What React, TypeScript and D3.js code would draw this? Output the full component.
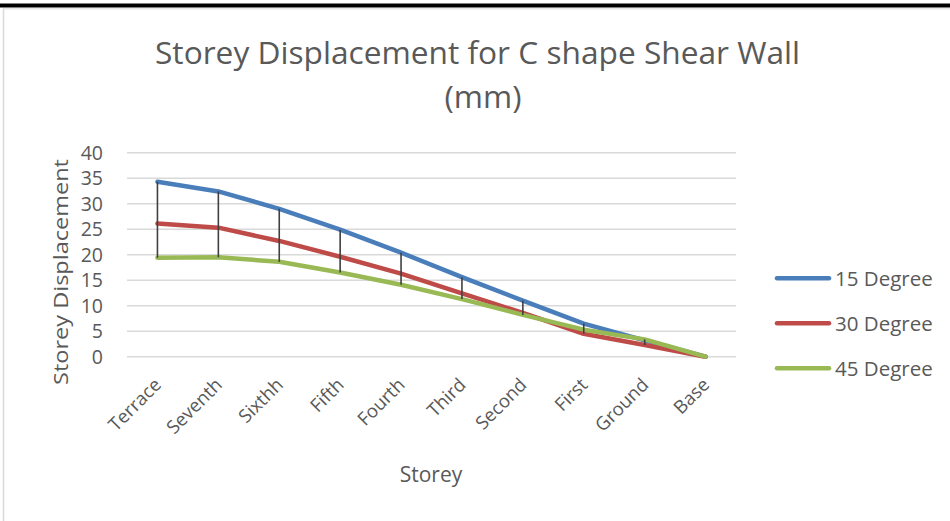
import React from "react";
import * as d3 from "d3";

const categories = ["Terrace", "Seventh", "Sixthh", "Fifth", "Fourth", "Third", "Second", "First", "Ground", "Base"];
const deg15 = [34.3, 32.4, 29.0, 24.9, 20.4, 15.6, 11.0, 6.5, 3.2, 0];
const deg30 = [26.1, 25.3, 22.7, 19.6, 16.3, 12.4, 8.6, 4.5, 2.3, 0];
const deg45 = [19.4, 19.5, 18.6, 16.5, 14.1, 11.3, 8.2, 5.3, 3.4, 0];
const seriesNames = ["15 Degree", "30 Degree", "45 Degree"];
const yTicks = [0, 5, 10, 15, 20, 25, 30, 35, 40];

const W = 950;
const H = 521;
const FONT = "'Open Sans', 'Noto Sans', sans-serif";
const TXT = "#595959";
const COLORS = ["#4A7EBB", "#BE4B48", "#98B954"];

export default function App() {
  const series = [deg15, deg30, deg45];
  const x = d3.scaleBand<string>().domain(categories).range([127, 736]).padding(0);
  const y = d3.scaleLinear().domain([0, 40]).range([356.7, 152.7]);
  const cx = (c: string) => (x(c) as number) + x.bandwidth() / 2;
  const line = d3
    .line<number>()
    .x((_, i) => cx(categories[i]))
    .y((d) => y(d));

  return (
    <svg
      width={W}
      height={H}
      style={{ position: "absolute", left: 0, top: 0, background: "#fff" }}
      fontFamily={FONT}
    >
      <rect x={0} y={0} width={W} height={H} fill="#fff" />
      {/* outer frame */}
      <rect x={0} y={3.5} width={W} height={4} fill="#000" />
      <line x1={3.5} x2={3.5} y1={8} y2={H} stroke="#D9D9D9" strokeWidth={1.5} />
      <line x1={3.5} x2={W} y1={8.75} y2={8.75} stroke="#E6E6E6" strokeWidth={1.5} />

      {/* title */}
      <text x={477.5} y={64} textAnchor="middle" fontSize={31.5} fill={TXT} textLength={645} lengthAdjust="spacingAndGlyphs">
        Storey Displacement for C shape Shear Wall
      </text>
      <text x={483} y={108} textAnchor="middle" fontSize={31.5} fill={TXT}>
        (mm)
      </text>

      {/* gridlines */}
      {yTicks.map((t) => (
        <line key={t} x1={127} x2={736} y1={y(t)} y2={y(t)} stroke="#D9D9D9" strokeWidth={1.5} />
      ))}

      {/* y tick labels */}
      {yTicks.map((t) => (
        <text key={t} x={103} y={y(t)} dy="0.36em" textAnchor="end" fontSize={19.5} fill={TXT}>
          {t}
        </text>
      ))}

      {/* y axis title */}
      <text
        transform={`translate(68,272) rotate(-90)`}
        textAnchor="middle"
        fontSize={20.5}
        fill={TXT}
        textLength={226}
        lengthAdjust="spacingAndGlyphs"
      >
        Storey Displacement
      </text>

      {/* x tick labels */}
      {categories.map((c) => (
        <text
          key={c}
          transform={`translate(${cx(c) + 5},${386}) rotate(-45)`}
          textAnchor="end"
          fontSize={18.5}
          fill={TXT}
        >
          {c}
        </text>
      ))}

      {/* x axis title */}
      <text x={431} y={482} textAnchor="middle" fontSize={21} fill={TXT}>
        Storey
      </text>

      {/* series lines */}
      {series.map((s, i) => (
        <path
          key={i}
          d={line(s) as string}
          fill="none"
          stroke={COLORS[i]}
          strokeWidth={4.5}
          strokeLinecap="round"
          strokeLinejoin="round"
        />
      ))}

      {/* high-low lines */}
      {categories.map((c, i) => {
        const vals = series.map((s) => s[i]);
        const hi = d3.max(vals) as number;
        const lo = d3.min(vals) as number;
        if (hi - lo < 0.01) return null;
        return (
          <line key={c} x1={cx(c)} x2={cx(c)} y1={y(hi)} y2={y(lo)} stroke="#404040" strokeWidth={1.6} />
        );
      })}

      {/* legend */}
      {seriesNames.map((n, i) => {
        const ly = 278.3 + i * 45;
        return (
          <g key={n}>
            <line x1={777} x2={829} y1={ly} y2={ly} stroke={COLORS[i]} strokeWidth={4.5} strokeLinecap="round" />
            <text x={835} y={ly} dy="0.36em" fontSize={20.5} fill={TXT}>
              {n}
            </text>
          </g>
        );
      })}
    </svg>
  );
}
